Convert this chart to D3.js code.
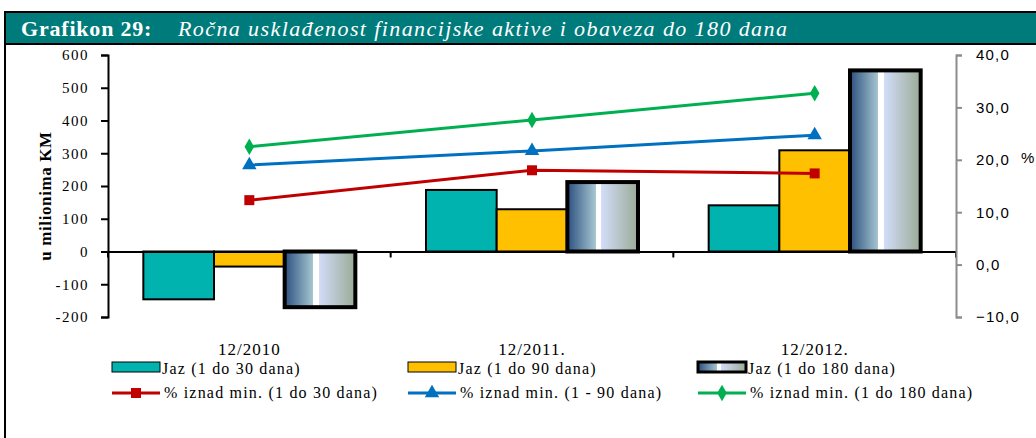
<!DOCTYPE html>
<html><head><meta charset="utf-8">
<script src="https://cdn.jsdelivr.net/npm/d3@7"></script>
<style>body{margin:0;background:#fff}svg{display:block}</style>
</head><body>
<svg id="c" width="1036" height="438"></svg>
<script>
const categories = ["12/2010", "12/2011.", "12/2012."];
const barSeries = ["Jaz (1 do 30 dana)", "Jaz (1 do 90 dana)", "Jaz (1 do 180 dana)"];
const jaz30 = [-146, 188, 141];
const jaz90 = [-46, 129, 309];
const jaz180 = [-170, 212, 553];
const lineSeries = ["% iznad min. (1 do 30 dana)", "% iznad min. (1 - 90 dana)", "% iznad min. (1 do 180 dana)"];
const pct30 = [12.3, 18.0, 17.4];
const pct90 = [19.0, 21.7, 24.7];
const pct180 = [22.5, 27.6, 32.7];
const leftTicks = [-200, -100, 0, 100, 200, 300, 400, 500, 600];
const rightTicks = [-10, 0, 10, 20, 30, 40];

const SERIF = '"Liberation Serif","Times New Roman",serif';
const svg = d3.select("#c");
const defs = svg.append("defs");
const g = defs.append("linearGradient").attr("id", "grad").attr("x1", "0%").attr("x2", "100%");
[["0%","#2c5080"],["40%","#a6c6d0"],["40.1%","#ffffff"],["48%","#ffffff"],["48.1%","#d2ddf9"],["100%","#9aab96"]]
  .forEach(([o,c]) => g.append("stop").attr("offset", o).attr("stop-color", c));

// frame + title
svg.append("line").attr("x1",5).attr("x2",5).attr("y1",12).attr("y2",438).attr("stroke","#000").attr("stroke-width",2);
svg.append("rect").attr("x",5).attr("y",12).attr("width",1040).attr("height",32).attr("fill","#007b7b").attr("stroke","#000").attr("stroke-width",2);
svg.append("text").attr("x",21).attr("y",36).attr("fill","#fff").style("font-family",SERIF).style("font-size","22px").style("letter-spacing","0.8px").attr("font-weight","bold").text("Grafikon 29:");
svg.append("text").attr("x",178).attr("y",36).attr("fill","#fff").style("font-family",SERIF).style("font-size","22px").style("letter-spacing","1.4px").attr("font-style","italic").text("Ročna usklađenost financijske aktive i obaveza do 180 dana");

const x = d3.scaleBand().domain(categories).range([108, 956]).padding(0);
const bw = x.bandwidth();
const x1 = d3.scaleBand().domain(barSeries).range([bw/8, bw*7/8]).padding(0);
const yL = d3.scaleLinear().domain([-200, 600]).range([317, 55]);
const yR = d3.scaleLinear().domain([-10, 40]).range([317, 55]);

// bars
const barData = [jaz30, jaz90, jaz180];
const fills = ["#00b3ae", "#ffc000", "url(#grad)"];
const strokes = [2, 2, 4];
barData.forEach((vals, si) => {
  svg.append("g").selectAll("rect").data(vals).join("rect")
    .attr("x", (d,i) => x(categories[i]) + x1(barSeries[si]))
    .attr("width", x1.bandwidth())
    .attr("y", d => yL(Math.max(0,d)))
    .attr("height", d => Math.abs(yL(d) - yL(0)))
    .attr("fill", fills[si]).attr("stroke", "#000").attr("stroke-width", strokes[si]);
});

// zero line with category ticks
const xAxis = svg.append("g").attr("transform", `translate(0,${yL(0)})`)
  .call(d3.axisBottom(x).tickValues([]).tickSizeOuter(0));
xAxis.select(".domain").attr("stroke","#000").attr("stroke-width",2);
[108, 108+bw, 108+2*bw, 956].forEach(px => svg.append("line").attr("x1",px).attr("x2",px).attr("y1",yL(0)).attr("y2",yL(0)+6).attr("stroke","#000").attr("stroke-width",2));
svg.append("g").selectAll("text").data(categories).join("text")
  .attr("x", d => x(d) + bw/2).attr("y", 355).attr("text-anchor","middle")
  .style("font-family",SERIF).style("font-size","17px").style("letter-spacing","1px").text(d => d);

// left axis
const la = svg.append("g").attr("transform","translate(108,0)")
  .call(d3.axisLeft(yL).tickValues(leftTicks).tickSize(7).tickSizeOuter(7).tickFormat(d => String(d)));
la.select(".domain").attr("stroke","#000").attr("stroke-width",2);
la.selectAll(".tick line").attr("stroke","#000").attr("stroke-width",2);
la.selectAll("text").attr("x",-19).style("font-family",SERIF).style("font-size","15px").style("letter-spacing","1.5px").attr("fill","#000");
svg.append("text").attr("transform","translate(51,196) rotate(-90)").attr("text-anchor","middle")
  .style("font-family",SERIF).style("font-size","17px").style("letter-spacing","0.6px").attr("font-weight","bold").text("u milionima  KM");

// right axis
const ra = svg.append("g").attr("transform","translate(956,0)")
  .call(d3.axisRight(yR).tickValues(rightTicks).tickSize(6).tickSizeOuter(6).tickFormat(d => d3.format(".1f")(d).replace(".", ",")));
ra.select(".domain").attr("stroke","#8c8c8c").attr("stroke-width",2);
ra.selectAll(".tick line").attr("stroke","#8c8c8c").attr("stroke-width",2);
ra.selectAll("text").attr("x",20).style("font-family","Liberation Sans, Arial, sans-serif").style("font-size","15px").style("letter-spacing","1.2px").attr("fill","#000");
svg.append("text").attr("x",1021).attr("y",163).style("font-family","Liberation Sans, Arial, sans-serif").style("font-size","15px").text("%");

// lines
const lineData = [pct30, pct90, pct180];
const lineColors = ["#c00000", "#0070c0", "#00b050"];
const symbols = [d3.symbolSquare, d3.symbolTriangle, d3.symbolDiamond];
const symSize = [100, 90, 80];
const cx = i => x(categories[i]) + bw/2;
lineData.forEach((vals, si) => {
  svg.append("path").datum(vals)
    .attr("d", d3.line().x((d,i) => cx(i)).y(d => yR(d)))
    .attr("fill","none").attr("stroke", lineColors[si]).attr("stroke-width",3);
  svg.append("g").selectAll("path").data(vals).join("path")
    .attr("transform", (d,i) => `translate(${cx(i)},${yR(d)})`)
    .attr("d", d3.symbol(symbols[si], symSize[si]))
    .attr("fill", lineColors[si]);
});

// legend
const legX = [112, 408, 698];
barSeries.forEach((s, i) => {
  svg.append("rect").attr("x", legX[i]).attr("y", 362).attr("width", 48).attr("height", 10)
    .attr("fill", fills[i]).attr("stroke","#000").attr("stroke-width", i===2 ? 3 : 1);
  svg.append("text").attr("x", legX[i]+50).attr("y", 374)
    .style("font-family",SERIF).style("font-size","16px").style("letter-spacing","1.2px").text(s);
});
lineSeries.forEach((s, i) => {
  svg.append("line").attr("x1", legX[i]).attr("x2", legX[i]+48).attr("y1", 393).attr("y2", 393)
    .attr("stroke", lineColors[i]).attr("stroke-width", 3);
  svg.append("path").attr("transform", `translate(${legX[i]+24},393)`)
    .attr("d", d3.symbol(symbols[i], symSize[i])).attr("fill", lineColors[i]);
  svg.append("text").attr("x", legX[i]+52).attr("y", 398)
    .style("font-family",SERIF).style("font-size","16px").style("letter-spacing","1.2px").text(s);
});
</script>
</body></html>
